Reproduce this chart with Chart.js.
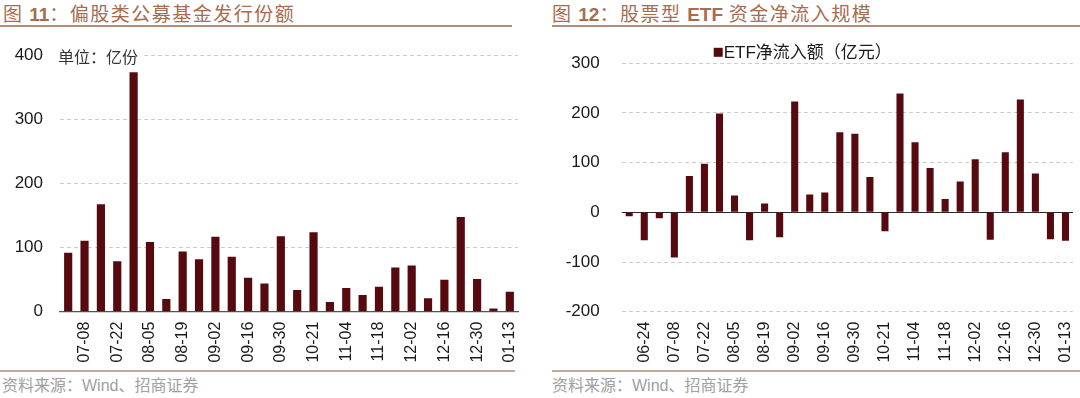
<!DOCTYPE html>
<html><head><meta charset="utf-8">
<script src="https://cdn.jsdelivr.net/npm/chart.js@4.4.0/dist/chart.umd.min.js"></script>
<style>
body{margin:0;width:1080px;height:398px;background:#fff;position:relative;overflow:hidden;}
.title{position:absolute;top:2px;font-family:"Noto Sans CJK SC",sans-serif;font-size:19px;letter-spacing:1.5px;color:#a86c4e;line-height:22px;white-space:nowrap;}
.title b{font-family:"Liberation Sans",sans-serif;font-weight:bold;letter-spacing:0;}
.rule{position:absolute;height:2px;background:#b38c76;}
.src{position:absolute;top:372px;font-family:"Noto Sans CJK SC",sans-serif;font-size:16px;color:#a0a0a0;white-space:nowrap;}
.src span{font-family:"Liberation Sans",sans-serif;}
.box{position:absolute;}
</style></head>
<body>
<div class="title" style="left:3px">图 <b>11</b>：偏股类公募基金发行份额</div>
<div class="title" style="left:552px">图 <b>12</b>：股票型 <b>ETF</b> 资金净流入规模</div>
<div class="rule" style="left:0;width:512px;top:25px"></div>
<div class="rule" style="left:552px;width:528px;top:25px"></div>
<div class="box" style="left:0;top:40px;width:530px;height:330px"><canvas id="c1"></canvas></div>
<div class="box" style="left:545px;top:30px;width:535px;height:340px"><canvas id="c2"></canvas></div>
<div class="rule" style="left:0;width:515px;top:370px;height:1.5px;background:#c2a999"></div>
<div class="rule" style="left:552px;width:528px;top:370px;height:1.5px;background:#c2a999"></div>
<div class="src" style="left:2px">资料来源：<span>Wind</span>、招商证券</div>
<div class="src" style="left:552px">资料来源：<span>Wind</span>、招商证券</div>
<script>
const fundDates = ['07-01','07-08','07-15','07-22','07-29','08-05','08-12','08-19','08-26','09-02','09-09','09-16','09-23','09-30','10-14','10-21','10-28','11-04','11-11','11-18','11-25','12-02','12-09','12-16','12-23','12-30','01-06','01-13'];
const fundShares = [92,111,168,79,374,109,20,94,82,117,86,53,44,118,34,124,15,37,26,39,69,72,21,50,148,51,5,31];
const fundTicks = [0,100,200,300,400];
const fundUnit = '单位：亿份';

const etfDates = ['06-17','06-24','07-01','07-08','07-15','07-22','07-29','08-05','08-12','08-19','08-26','09-02','09-09','09-16','09-23','09-30','10-14','10-21','10-28','11-04','11-11','11-18','11-25','12-02','12-09','12-16','12-23','12-30','01-06','01-13'];
const etfFlows = [-8,-56,-12,-91,73,98,199,34,-56,18,-50,223,36,40,161,158,71,-38,239,141,89,27,62,107,-55,121,227,78,-54,-57];
const etfTicks = [-200,-100,0,100,200,300];
const etfLabel = 'ETF净流入额（亿元）';

const FONT = '"Liberation Sans","Noto Sans CJK SC",sans-serif';
const BAR = '#560a10';
const GRID = '#cdcdcd';

function oddLabel(v, i){ return i % 2 === 1 ? this.getLabelForValue(v) : ''; }

function buildChart(id, labels, values, ticks, label, cfg){
  return new Chart(document.getElementById(id), {
    type: 'bar',
    data: { labels: labels, datasets: [{ label: label, data: values, backgroundColor: BAR, barPercentage: cfg.barPct, categoryPercentage: 1 }] },
    options: {
      responsive: true, maintainAspectRatio: false, animation: false, devicePixelRatio: 1,
      layout: { padding: cfg.padding },
      plugins: { legend: { display: false }, tooltip: { enabled: false } },
      scales: {
        x: {
          offset: true,
          grid: { display: false, drawTicks: false },
          border: { display: cfg.xBorder, color: '#555', width: 1.2 },
          ticks: { autoSkip: false, minRotation: 90, maxRotation: 90, padding: 10, color: '#1a1a1a', font: { family: FONT, size: 16 }, callback: oddLabel },
          afterFit: s => { s.height = cfg.xHeight; s.paddingLeft = 0; s.paddingRight = 0; }
        },
        y: {
          min: ticks[0], max: ticks[ticks.length - 1],
          afterBuildTicks: s => { s.ticks = ticks.map(v => ({ value: v })); },
          grid: { drawTicks: false, color: c => (c.tick && c.tick.value === 0) ? 'rgba(0,0,0,0)' : GRID, lineWidth: 1 },
          border: { display: false, dash: [4, 3] },
          ticks: { padding: cfg.yPad, color: '#1a1a1a', font: { family: FONT, size: 17 } },
          afterFit: s => { s.width = cfg.yWidth; s.paddingTop = 0; s.paddingBottom = 0; }
        }
      }
    },
    plugins: cfg.plugins
  });
}

const unitPlugin = {
  id: 'unit',
  afterDraw(chart){
    const ctx = chart.ctx, y = chart.scales.y.getPixelForValue(fundTicks[fundTicks.length - 1]);
    ctx.save();
    ctx.font = '16px "Noto Sans CJK SC", sans-serif';
    const w = ctx.measureText(fundUnit).width;
    ctx.fillStyle = '#fff';
    ctx.fillRect(chart.chartArea.left - 2, y - 9, w + 6, 18);
    ctx.fillStyle = '#333';
    ctx.textBaseline = 'middle';
    ctx.fillText(fundUnit, chart.chartArea.left - 2, y + 1);
    ctx.restore();
  }
};

const zeroLegendPlugin = {
  id: 'zeroLegend',
  beforeDatasetsDraw(chart){
    const ctx = chart.ctx, a = chart.chartArea, y = Math.round(chart.scales.y.getPixelForValue(0)) + 0.5;
    ctx.save();
    ctx.strokeStyle = '#2a2a2a'; ctx.lineWidth = 1.2;
    ctx.beginPath(); ctx.moveTo(a.left, y); ctx.lineTo(a.right, y); ctx.stroke();
    ctx.restore();
  },
  afterDraw(chart){
    const ctx = chart.ctx, a = chart.chartArea;
    const cy = a.top - 11, x0 = a.left + 92;
    ctx.save();
    ctx.fillStyle = BAR;
    ctx.fillRect(x0, cy - 4.5, 9, 9);
    ctx.fillStyle = '#1a1a1a';
    ctx.textBaseline = 'middle';
    ctx.font = '17px ' + FONT;
    ctx.fillText(chart.data.datasets[0].label, x0 + 10, cy + 1);
    ctx.restore();
  }
};

buildChart('c1', fundDates, fundShares, fundTicks, '偏股类公募基金发行份额', {
  barPct: 0.5, padding: { top: 15.7, right: 12, left: 0, bottom: 0 }, xBorder: true, xHeight: 58.3, yWidth: 60, yPad: 17, plugins: [unitPlugin]
});
buildChart('c2', etfDates, etfFlows, etfTicks, etfLabel, {
  barPct: 0.47, padding: { top: 33.3, right: 7, left: 0, bottom: 0 }, xBorder: false, xHeight: 58.3, yWidth: 76.7, yPad: 22, plugins: [zeroLegendPlugin]
});
</script>
</body></html>
